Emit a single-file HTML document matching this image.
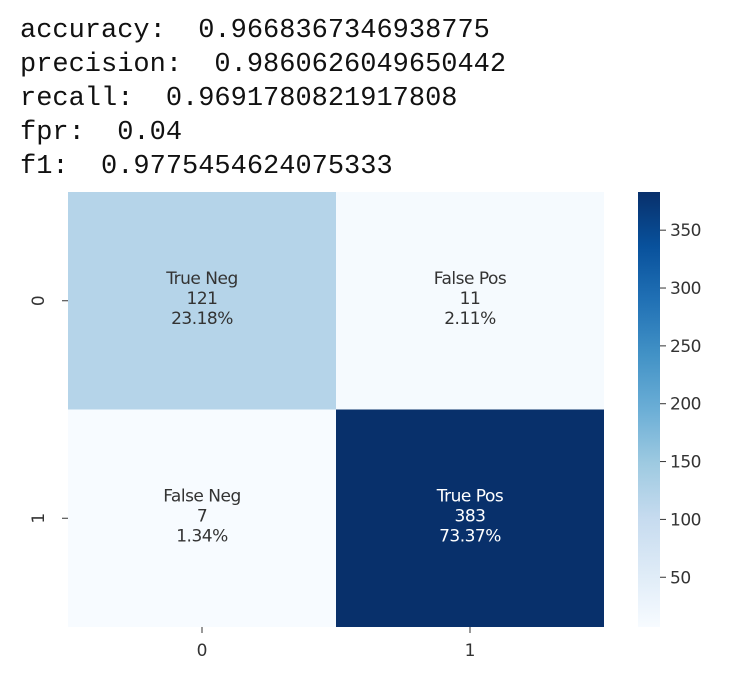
<!DOCTYPE html>
<html><head><meta charset="utf-8"><style>
body{margin:0;background:#fff;width:738px;height:686px;overflow:hidden}
pre{position:absolute;left:20px;top:14px;margin:0;font:27px/34px "Liberation Mono",monospace;color:#111}
svg{position:absolute;left:0;top:0}
</style></head><body>
<pre>accuracy:  0.9668367346938775
precision:  0.9860626049650442
recall:  0.9691780821917808
fpr:  0.04
f1:  0.9775454624075333</pre>
<svg id="c" width="738" height="686"></svg>
<script>
const rowLabels=["0","1"];
const colLabels=["0","1"];
const names=[["True Neg","False Pos"],["False Neg","True Pos"]];
const counts=[[121,11],[7,383]];
const percents=["23.18%","2.11%","1.34%","73.37%"];
const cbTicks=[50,100,150,200,250,300,350];
const NS="http://www.w3.org/2000/svg",svg=document.getElementById('c');
const blues=[[247,251,255],[222,235,247],[198,219,239],[158,202,225],[107,174,214],[66,146,198],[33,113,181],[8,81,156],[8,48,107]];
function cmap(t){t=Math.max(0,Math.min(1,t))*8;const i=Math.min(7,Math.floor(t)),f=t-i,a=blues[i],b=blues[i+1];return`rgb(${a.map((v,k)=>Math.round(v+(b[k]-v)*f)).join(',')})`;}
const flat=counts.flat(),vmin=Math.min(...flat),vmax=Math.max(...flat);
const X0=68,X1=604,Y0=192,Y1=627,cw=(X1-X0)/colLabels.length,ch=(Y1-Y0)/rowLabels.length;
const xs=j=>X0+j*cw,ys=i=>Y0+i*ch;
function el(t,a,p){const e=document.createElementNS(NS,t);for(const k in a)e.setAttribute(k,a[k]);(p||svg).appendChild(e);return e;}
counts.forEach((row,i)=>row.forEach((v,j)=>{
 const t=(v-vmin)/(vmax-vmin);
 const r=el('rect',{x:xs(j),y:ys(i),width:cw,height:ch,fill:cmap(t)});
 
 
 const col=t>0.5?'#fff':'#333';
 [names[i][j],String(v),percents[i*2+j]].forEach((s,k)=>{
  const tx=el('text',{x:xs(j)+cw/2,y:ys(i)+ch/2-17+k*20,'text-anchor':'middle','font-family':'DejaVu Sans,sans-serif','font-size':17,'letter-spacing':-0.5,fill:col});
  tx.textContent=s;
  
  
 });
}));
rowLabels.forEach((s,i)=>{
 const y=ys(i)+ch/2;
 el('line',{x1:X0-6,x2:X0,y1:y,y2:y,stroke:'#333'});
 const t=el('text',{x:44,y:y,transform:`rotate(-90 44 ${y})`,'text-anchor':'middle','font-family':'DejaVu Sans,sans-serif','font-size':17,fill:'#333'});
 t.textContent=s;
 
 
});
colLabels.forEach((s,j)=>{
 const x=xs(j)+cw/2;
 el('line',{x1:x,x2:x,y1:Y1,y2:Y1+6,stroke:'#333'});
 const t=el('text',{x:x,y:Y1+29,'text-anchor':'middle','font-family':'DejaVu Sans,sans-serif','font-size':17,fill:'#333'});
 t.textContent=s;
 
 
});
const CX=638,CW=22,defs=el('defs',{}),g=el('linearGradient',{id:'g',x1:0,y1:1,x2:0,y2:0},defs);
for(let k=0;k<=8;k++)el('stop',{offset:k/8,'stop-color':cmap(k/8)},g);
const cb=el('rect',{x:CX,y:Y0,width:CW,height:Y1-Y0,fill:'url(#g)'});


const cy=v=>Y1-(v-vmin)/(vmax-vmin)*(Y1-Y0);
cbTicks.forEach(v=>{
 const y=cy(v);
 el('line',{x1:CX+CW,x2:CX+CW+6,y1:y,y2:y,stroke:'#333'});
 const t=el('text',{x:CX+CW+10,y:y+6,'font-family':'DejaVu Sans,sans-serif','font-size':17,'letter-spacing':-0.5,fill:'#333'});
 t.textContent=v;
 
 
});
</script>
</body></html>
